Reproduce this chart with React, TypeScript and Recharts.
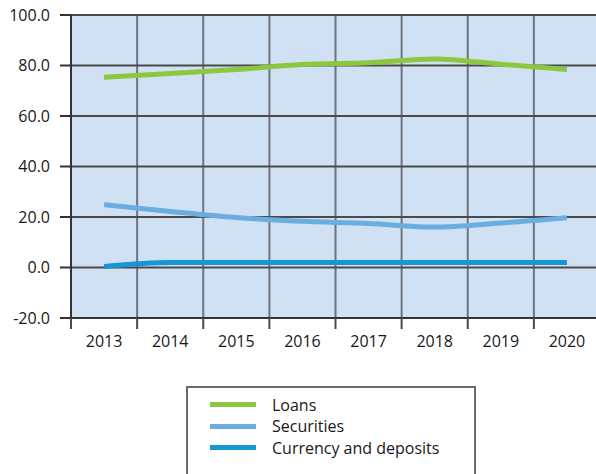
import React from "react";
import { LineChart, Line, XAxis, YAxis, CartesianGrid, Legend } from "recharts";

const years = [2013, 2014, 2015, 2016, 2017, 2018, 2019, 2020];
const loans = [75.3, 76.8, 78.4, 80.4, 81.1, 82.6, 80.5, 78.4];
const securities = [24.9, 22.2, 19.8, 18.3, 17.4, 16.0, 17.6, 19.7];
const currency = [0.4, 2.0, 2.0, 2.0, 2.0, 2.0, 2.0, 2.0];
const yTicks = [-20, 0, 20, 40, 60, 80, 100];

const series = [
  { key: "loans", name: "Loans", color: "#8DC63F" },
  { key: "securities", name: "Securities", color: "#6AAEE0" },
  { key: "currency", name: "Currency and deposits", color: "#1796D6" },
];

const data = years.map((year, i) => ({
  year,
  loans: loans[i],
  securities: securities[i],
  currency: currency[i],
}));

const xDomain = [years[0] - 0.5, years[years.length - 1] + 0.5];
const edges = [...years.map((y) => y - 0.5), years[years.length - 1] + 0.5];

const FONT = "'Open Sans', sans-serif";
const TEXT = "#1a1718";

function ChartLegend() {
  return (
    <div
      style={{
        border: "2px solid #6b6b6b",
        height: 100,
        boxSizing: "border-box",
        padding: "6px 0 0 22px",
        fontFamily: FONT,
        fontSize: 16,
        color: TEXT,
        background: "#fff",
      }}
    >
      {series.map((s) => (
        <div key={s.key} style={{ display: "flex", alignItems: "center", height: 21.5 }}>
          <span style={{ display: "inline-block", width: 46, height: 5, background: s.color, marginRight: 16 }} />
          <span>{s.name}</span>
        </div>
      ))}
    </div>
  );
}

export default function App() {
  return (
    <div style={{ position: "absolute", left: 0, top: 0, width: 596, height: 474, overflow: "hidden", background: "#fff" }}>
      <LineChart width={600} height={474} data={data} margin={{ top: 15, right: 0, left: 0, bottom: 127 }}>
        <CartesianGrid
          horizontal={false}
          vertical
          fill="#D0E1F3"
          fillOpacity={1}
          stroke="#6f737b"
          strokeWidth={2}
        />
        <CartesianGrid vertical={false} stroke="#4a4a4a" strokeWidth={2} />
        {/* category edges: grid lines + tick marks under the axis */}
        <XAxis
          xAxisId={0}
          type="number"
          dataKey="year"
          domain={xDomain}
          ticks={edges}
          interval={0}
          height={1}
          tick={<g />}
          tickSize={11}
          tickLine={{ stroke: "#4a4a4a", strokeWidth: 2 }}
          axisLine={{ stroke: "#333", strokeWidth: 2 }}
          allowDecimals
        />
        <XAxis
          xAxisId="labels"
          type="number"
          dataKey="year"
          domain={xDomain}
          ticks={years}
          interval={0}
          height={28}
          tickLine={false}
          axisLine={false}
          tickMargin={11}
          tick={{ fontFamily: FONT, fontSize: 16, fill: TEXT }}
        />
        <YAxis
          type="number"
          domain={[-20, 100]}
          ticks={yTicks}
          interval={0}
          width={71}
          tickSize={11}
          tickMargin={10}
          tickFormatter={(v: number) => v.toFixed(1)}
          tickLine={{ stroke: "#333", strokeWidth: 2 }}
          axisLine={{ stroke: "#333", strokeWidth: 2 }}
          tick={{ fontFamily: FONT, fontSize: 16, fill: TEXT }}
        />
        {series.map((s) => (
          <Line
            key={s.key}
            xAxisId="labels"
            type="monotone"
            dataKey={s.key}
            name={s.name}
            stroke={s.color}
            strokeWidth={5}
            dot={false}
            activeDot={false}
            isAnimationActive={false}
          />
        ))}
        <Legend
          layout="horizontal"
          verticalAlign="middle"
          align="center"
          content={() => <ChartLegend />}
          wrapperStyle={{ position: "absolute", left: 186, top: 386, width: 290, height: 100 }}
        />
      </LineChart>
    </div>
  );
}
